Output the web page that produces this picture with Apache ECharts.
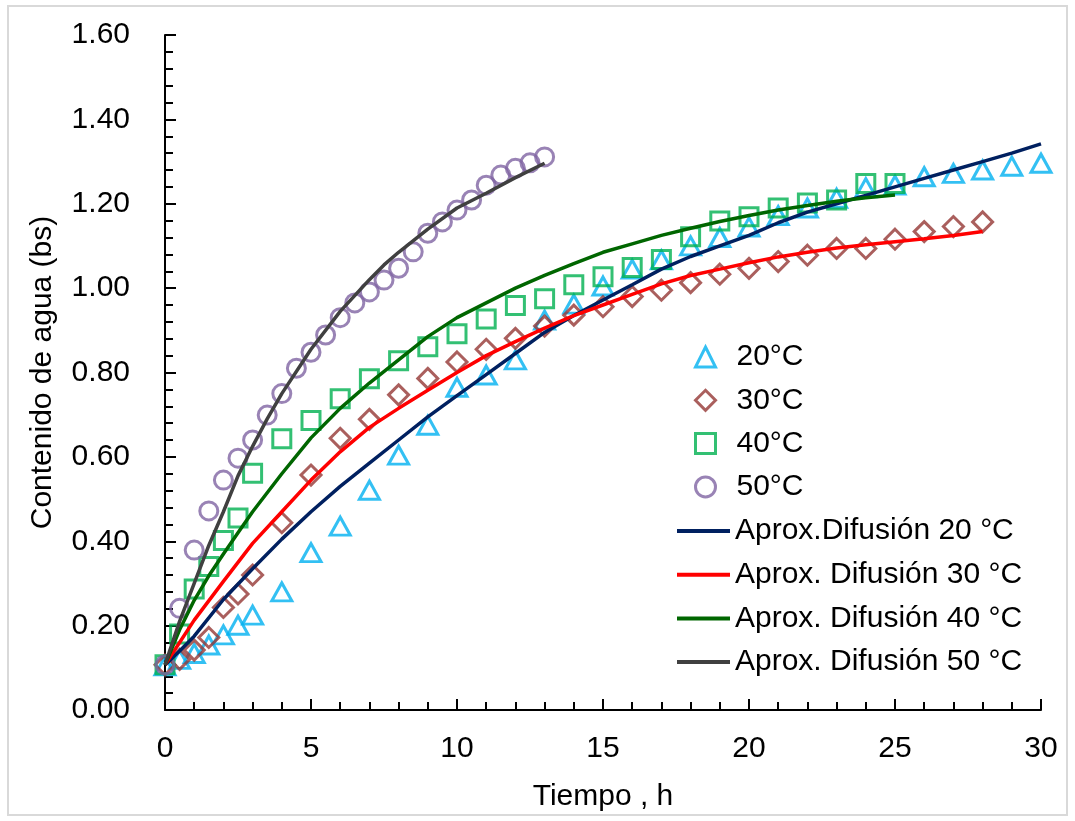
<!DOCTYPE html>
<html>
<head>
<meta charset="utf-8">
<script src="https://cdn.jsdelivr.net/npm/echarts@6/dist/echarts.min.js"></script>
<style>
html,body{margin:0;padding:0;background:#fff;}
#chart{width:1075px;height:821px;}
</style>
</head>
<body>
<div id="chart"></div>
<script>
// ---- Data ----
const xTicks = [0, 5, 10, 15, 20, 25, 30];
const yTicks = [0, 0.2, 0.4, 0.6, 0.8, 1.0, 1.2, 1.4, 1.6];

// Experimental points
const x20 = [0,0.5,1,1.5,2,2.5,3,4,5,6,7,8,9,10,11,12,13,14,15,16,17,18,19,20,21,22,23,24,25,26,27,28,29,30];
const y20 = [0.105,0.12,0.134,0.154,0.178,0.201,0.225,0.28,0.373,0.436,0.521,0.604,0.675,0.765,0.794,0.83,0.924,0.962,1.005,1.045,1.067,1.1,1.12,1.145,1.172,1.19,1.213,1.238,1.244,1.264,1.272,1.28,1.289,1.296];

const x30 = [0,0.5,1,1.5,2,2.5,3,4,5,6,7,8,9,10,11,12,13,14,15,16,17,18,19,20,21,22,23,24,25,26,27,28];
const y30 = [0.107,0.12,0.142,0.172,0.243,0.275,0.32,0.444,0.557,0.644,0.689,0.747,0.786,0.825,0.855,0.881,0.91,0.936,0.956,0.98,0.995,1.013,1.033,1.047,1.063,1.078,1.094,1.094,1.116,1.134,1.146,1.157];

const x40 = [0,0.5,1,1.5,2,2.5,3,4,5,6,7,8,9,10,11,12,13,14,15,16,17,18,19,20,21,22,23,24,25];
const y40 = [0.107,0.18,0.287,0.34,0.402,0.455,0.561,0.643,0.686,0.738,0.785,0.828,0.861,0.892,0.927,0.959,0.975,1.008,1.027,1.049,1.068,1.122,1.159,1.169,1.19,1.202,1.209,1.248,1.248];

const x50 = [0,0.5,1,1.5,2,2.5,3,3.5,4,4.5,5,5.5,6,6.5,7,7.5,8,8.5,9,9.5,10,10.5,11,11.5,12,12.5,13];
const y50 = [0.107,0.241,0.379,0.472,0.545,0.597,0.64,0.699,0.75,0.81,0.848,0.889,0.93,0.965,0.991,1.019,1.047,1.086,1.13,1.157,1.185,1.209,1.244,1.268,1.284,1.297,1.311];

// Diffusion-model curves
const xm20 = [0,0.5,1,2,3,4,5,6,7,8,9,10,11,12,13,14,15,16,17,18,19,20,21,22,23,24,25,26,27,28,29,30];
const ym20 = [0.107,0.14,0.175,0.262,0.335,0.405,0.47,0.53,0.585,0.64,0.695,0.745,0.795,0.845,0.895,0.935,0.972,1.008,1.045,1.075,1.1,1.125,1.155,1.18,1.2,1.22,1.24,1.26,1.28,1.3,1.32,1.342];

const xm30 = [0,0.5,1,2,3,4,5,6,7,8,9,10,11,12,13,14,15,16,17,18,19,20,21,22,23,24,25,26,27,28];
const ym30 = [0.107,0.16,0.213,0.305,0.395,0.47,0.545,0.612,0.67,0.715,0.758,0.8,0.84,0.873,0.905,0.935,0.96,0.985,1.01,1.03,1.045,1.06,1.074,1.085,1.095,1.103,1.11,1.117,1.125,1.134];

const xm40 = [0,0.5,1,1.5,2,2.5,3,4,5,6,7,8,9,10,11,12,13,14,15,16,17,18,19,20,21,22,23,24,25];
const ym40 = [0.107,0.19,0.26,0.318,0.37,0.42,0.47,0.56,0.645,0.715,0.775,0.83,0.885,0.93,0.965,1.0,1.03,1.058,1.085,1.105,1.125,1.142,1.158,1.172,1.185,1.196,1.206,1.214,1.221];

const xm50 = [0,0.5,1,1.5,2,2.5,3,3.5,4,5,6,7,7.5,8,9,10,11,12,13];
const ym50 = [0.107,0.21,0.3,0.39,0.47,0.555,0.625,0.69,0.75,0.855,0.945,1.02,1.055,1.085,1.14,1.19,1.225,1.262,1.296];

const names = ['20°C','30°C','40°C','50°C',
  'Aprox.Difusión 20 °C','Aprox. Difusión 30 °C','Aprox. Difusión 40 °C','Aprox. Difusión 50 °C'];

// ---- Build ----
const pairs = (xs, ys) => xs.map((x, i) => [x, ys[i]]);
const FONT = '"Liberation Sans Narrow", "Arial Narrow", "Liberation Sans", Arial, sans-serif';

const scatterDefs = [
  {name: names[0], data: pairs(x20, y20), symbol: 'triangle', size: [20, 18], color: '#00B0F0'},
  {name: names[1], data: pairs(x30, y30), symbol: 'diamond',  size: [20, 20], color: '#953735'},
  {name: names[2], data: pairs(x40, y40), symbol: 'rect',     size: [18, 18], color: '#00B050'},
  {name: names[3], data: pairs(x50, y50), symbol: 'circle',   size: [18, 18], color: '#8064A2'}
];
const lineDefs = [
  {name: names[4], data: pairs(xm20, ym20), color: '#002060'},
  {name: names[5], data: pairs(xm30, ym30), color: '#FF0000'},
  {name: names[6], data: pairs(xm40, ym40), color: '#006600'},
  {name: names[7], data: pairs(xm50, ym50), color: '#404040'}
];

const series = [];
scatterDefs.forEach(d => series.push({
  name: d.name, type: 'scatter', data: d.data, symbol: d.symbol, symbolSize: d.size,
  itemStyle: {color: 'rgba(255,255,255,0)', borderColor: d.color, borderWidth: 3},
  emphasis: {disabled: true}, z: 2
}));
lineDefs.forEach(d => series.push({
  name: d.name, type: 'line', data: d.data, showSymbol: false, symbol: 'none', smooth: false,
  lineStyle: {color: d.color, width: 3.5}, itemStyle: {color: d.color},
  emphasis: {disabled: true}, z: 3
}));

const axisTxt = {color: '#000', fontFamily: FONT, fontSize: 30};

const option = {
  backgroundColor: '#fff',
  animation: false,
  graphic: [{
    type: 'rect', shape: {x: 8, y: 6, width: 1059, height: 809},
    style: {fill: 'none', stroke: '#d9d9d9', lineWidth: 2}, silent: true, z: -1
  }],
  grid: {left: 165, right: 34, top: 35, bottom: 111, containLabel: false},
  xAxis: {
    type: 'value', min: xTicks[0], max: xTicks[xTicks.length - 1], interval: 5,
    name: 'Tiempo , h', nameLocation: 'middle', nameGap: 72,
    nameTextStyle: axisTxt,
    axisLine: {show: true, onZero: false, lineStyle: {color: '#000', width: 2}},
    axisTick: {show: true, inside: true, length: 11, lineStyle: {color: '#000', width: 2}},
    minorTick: {show: true, splitNumber: 5, length: 8, lineStyle: {color: '#000', width: 2}},
    axisLabel: Object.assign({margin: 24, formatter: v => String(v)}, axisTxt),
    splitLine: {show: false}
  },
  yAxis: {
    type: 'value', min: yTicks[0], max: yTicks[yTicks.length - 1], interval: 0.2,
    name: 'Contenido de agua (bs)', nameLocation: 'middle', nameGap: 107, nameRotate: 90,
    nameTextStyle: axisTxt,
    axisLine: {show: true, onZero: false, lineStyle: {color: '#000', width: 2}},
    axisTick: {show: true, inside: true, length: 11, lineStyle: {color: '#000', width: 2}},
    minorTick: {show: true, splitNumber: 5, length: 8, lineStyle: {color: '#000', width: 2}},
    axisLabel: Object.assign({margin: 35, formatter: v => v.toFixed(2)}, axisTxt),
    splitLine: {show: false}
  },
  legend: [
    {
      orient: 'vertical', left: 694, top: 339, padding: 0, itemWidth: 20, itemHeight: 20, itemGap: 7.3,
      selectedMode: false,
      textStyle: {color: '#000', fontFamily: FONT, fontSize: 30, lineHeight: 36, padding: [0, 0, 0, 16]},
      data: scatterDefs.map(d => ({
        name: d.name, icon: d.symbol,
        itemStyle: {color: 'rgba(255,255,255,0)', borderColor: d.color, borderWidth: 3}
      }))
    },
    {
      orient: 'vertical', left: 677, top: 513, padding: 0, itemWidth: 53, itemHeight: 4, itemGap: 7.7,
      selectedMode: false,
      textStyle: {color: '#000', fontFamily: FONT, fontSize: 30, lineHeight: 36},
      data: lineDefs.map(d => ({name: d.name, icon: 'rect', itemStyle: {color: d.color, borderWidth: 0}}))
    }
  ],
  series: series
};

const chart = echarts.init(document.getElementById('chart'), null, {renderer: 'canvas'});
chart.setOption(option);
</script>
</body>
</html>
